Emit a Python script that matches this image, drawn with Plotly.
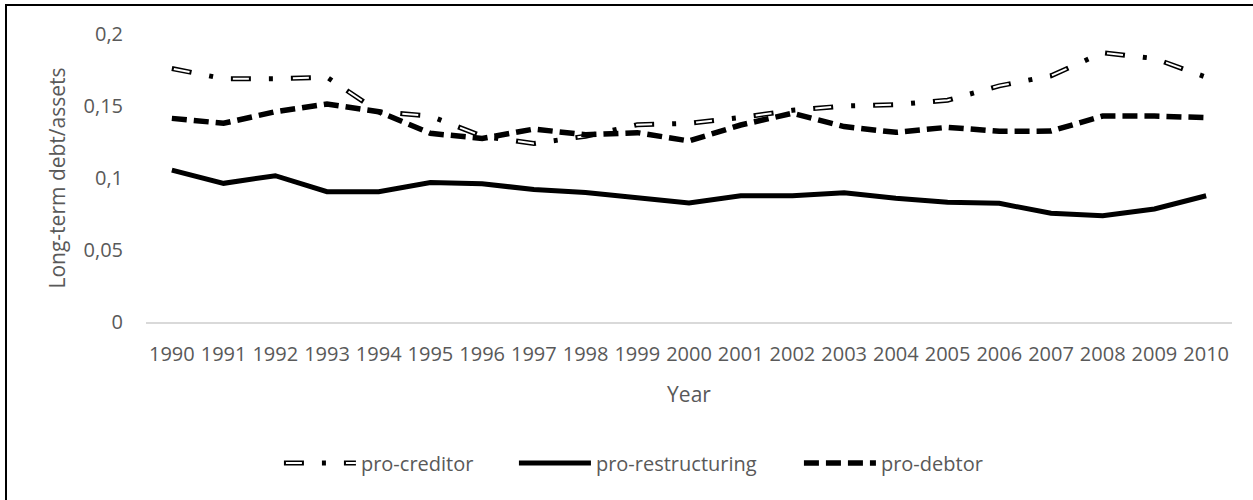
import plotly.graph_objects as go

years = list(range(1990, 2011))
pro_creditor = [0.176, 0.169, 0.169, 0.170, 0.146, 0.143, 0.129, 0.124, 0.129, 0.137,
                0.138, 0.142, 0.147, 0.150, 0.151, 0.154, 0.164, 0.171, 0.187, 0.183, 0.170]
pro_restructuring = [0.1055, 0.0963, 0.1016, 0.0905, 0.0905, 0.0968, 0.0960, 0.0920, 0.0900, 0.0863,
                     0.0826, 0.0877, 0.0877, 0.0898, 0.0859, 0.0831, 0.0824, 0.0755, 0.0738, 0.0785, 0.0877]
pro_debtor = [0.1414, 0.1380, 0.1460, 0.1514, 0.1460, 0.1310, 0.1275, 0.1340, 0.1300, 0.1315,
              0.1257, 0.1368, 0.1450, 0.1357, 0.1317, 0.1352, 0.1324, 0.1326, 0.1430, 0.1430, 0.1419]
y_ticks = [0, 0.05, 0.1, 0.15, 0.2]

FONT = "Open Sans"
GREY = "#595959"

fig = go.Figure()
fig.add_trace(go.Scatter(x=years, y=pro_creditor, mode="lines", name="pro-creditor",
                         line=dict(color="black", width=5, dash="20px,18px,4px,18px"),
                         legend="legend", legendwidth=148))
fig.add_trace(go.Scatter(x=years, y=pro_creditor, mode="lines", name="pro-creditor",
                         line=dict(color="white", width=2, dash="0px,2px,16px,42px"),
                         legend="legend2", legendwidth=148, hoverinfo="skip"))
fig.add_trace(go.Scatter(x=years, y=pro_restructuring, mode="lines", name="pro-restructuring",
                         line=dict(color="black", width=5), legend="legend", legendwidth=198))
fig.add_trace(go.Scatter(x=years, y=pro_debtor, mode="lines", name="pro-debtor",
                         line=dict(color="black", width=5.5, dash="15px,7px"), legend="legend",
                         legendwidth=100))

leg_common = dict(orientation="h", x=0.1224, xanchor="left", y=-0.49, yanchor="middle",
                  itemwidth=72, bgcolor="rgba(0,0,0,0)", tracegroupgap=0,
                  itemclick=False, itemdoubleclick=False)

fig.update_layout(
    width=1253, height=500,
    margin=dict(l=146, r=21, t=34, b=178, autoexpand=False),
    paper_bgcolor="white", plot_bgcolor="white",
    separators=", ",
    font=dict(family=FONT, size=20, color=GREY),
    showlegend=True,
    legend=dict(**leg_common, font=dict(family=FONT, size=20, color=GREY)),
    legend2=dict(**leg_common, font=dict(family=FONT, size=20, color="rgba(0,0,0,0)")),
    xaxis=dict(range=[1989.5, 2010.5], tickmode="array", tickvals=years,
               ticktext=[str(y) for y in years], showgrid=False, zeroline=False,
               showline=True, linecolor="#D9D9D9", linewidth=1.5, ticks="",
               automargin=False,
               ticklabelstandoff=13, tickfont=dict(family=FONT, size=20, color=GREY),
               title=dict(text="Year", font=dict(family=FONT, size=21, color=GREY), standoff=22)),
    yaxis=dict(range=[0, 0.2], tickmode="array", tickvals=y_ticks,
               ticktext=[("%g" % v).replace(".", ",") for v in y_ticks],
               showgrid=False, zeroline=False, showline=False, ticks="",
               automargin=False,
               ticklabelstandoff=22, tickfont=dict(family=FONT, size=20, color=GREY),
               title=dict(text="Long-term debt/assets", font=dict(family=FONT, size=21, color=GREY),
                          standoff=12)),
    shapes=[dict(type="rect", xref="paper", yref="paper",
                 x0=(6 - 146) / 1086, x1=(1262 - 146) / 1086,
                 y0=(322 - 510) / 288, y1=(322 - 5) / 288,
                 line=dict(color="black", width=2), fillcolor="rgba(0,0,0,0)", layer="below")],
)

fig.write_html("out.html", config={"displayModeBar": False},
               post_script="document.body.style.margin='0';document.body.style.overflow='hidden';")
